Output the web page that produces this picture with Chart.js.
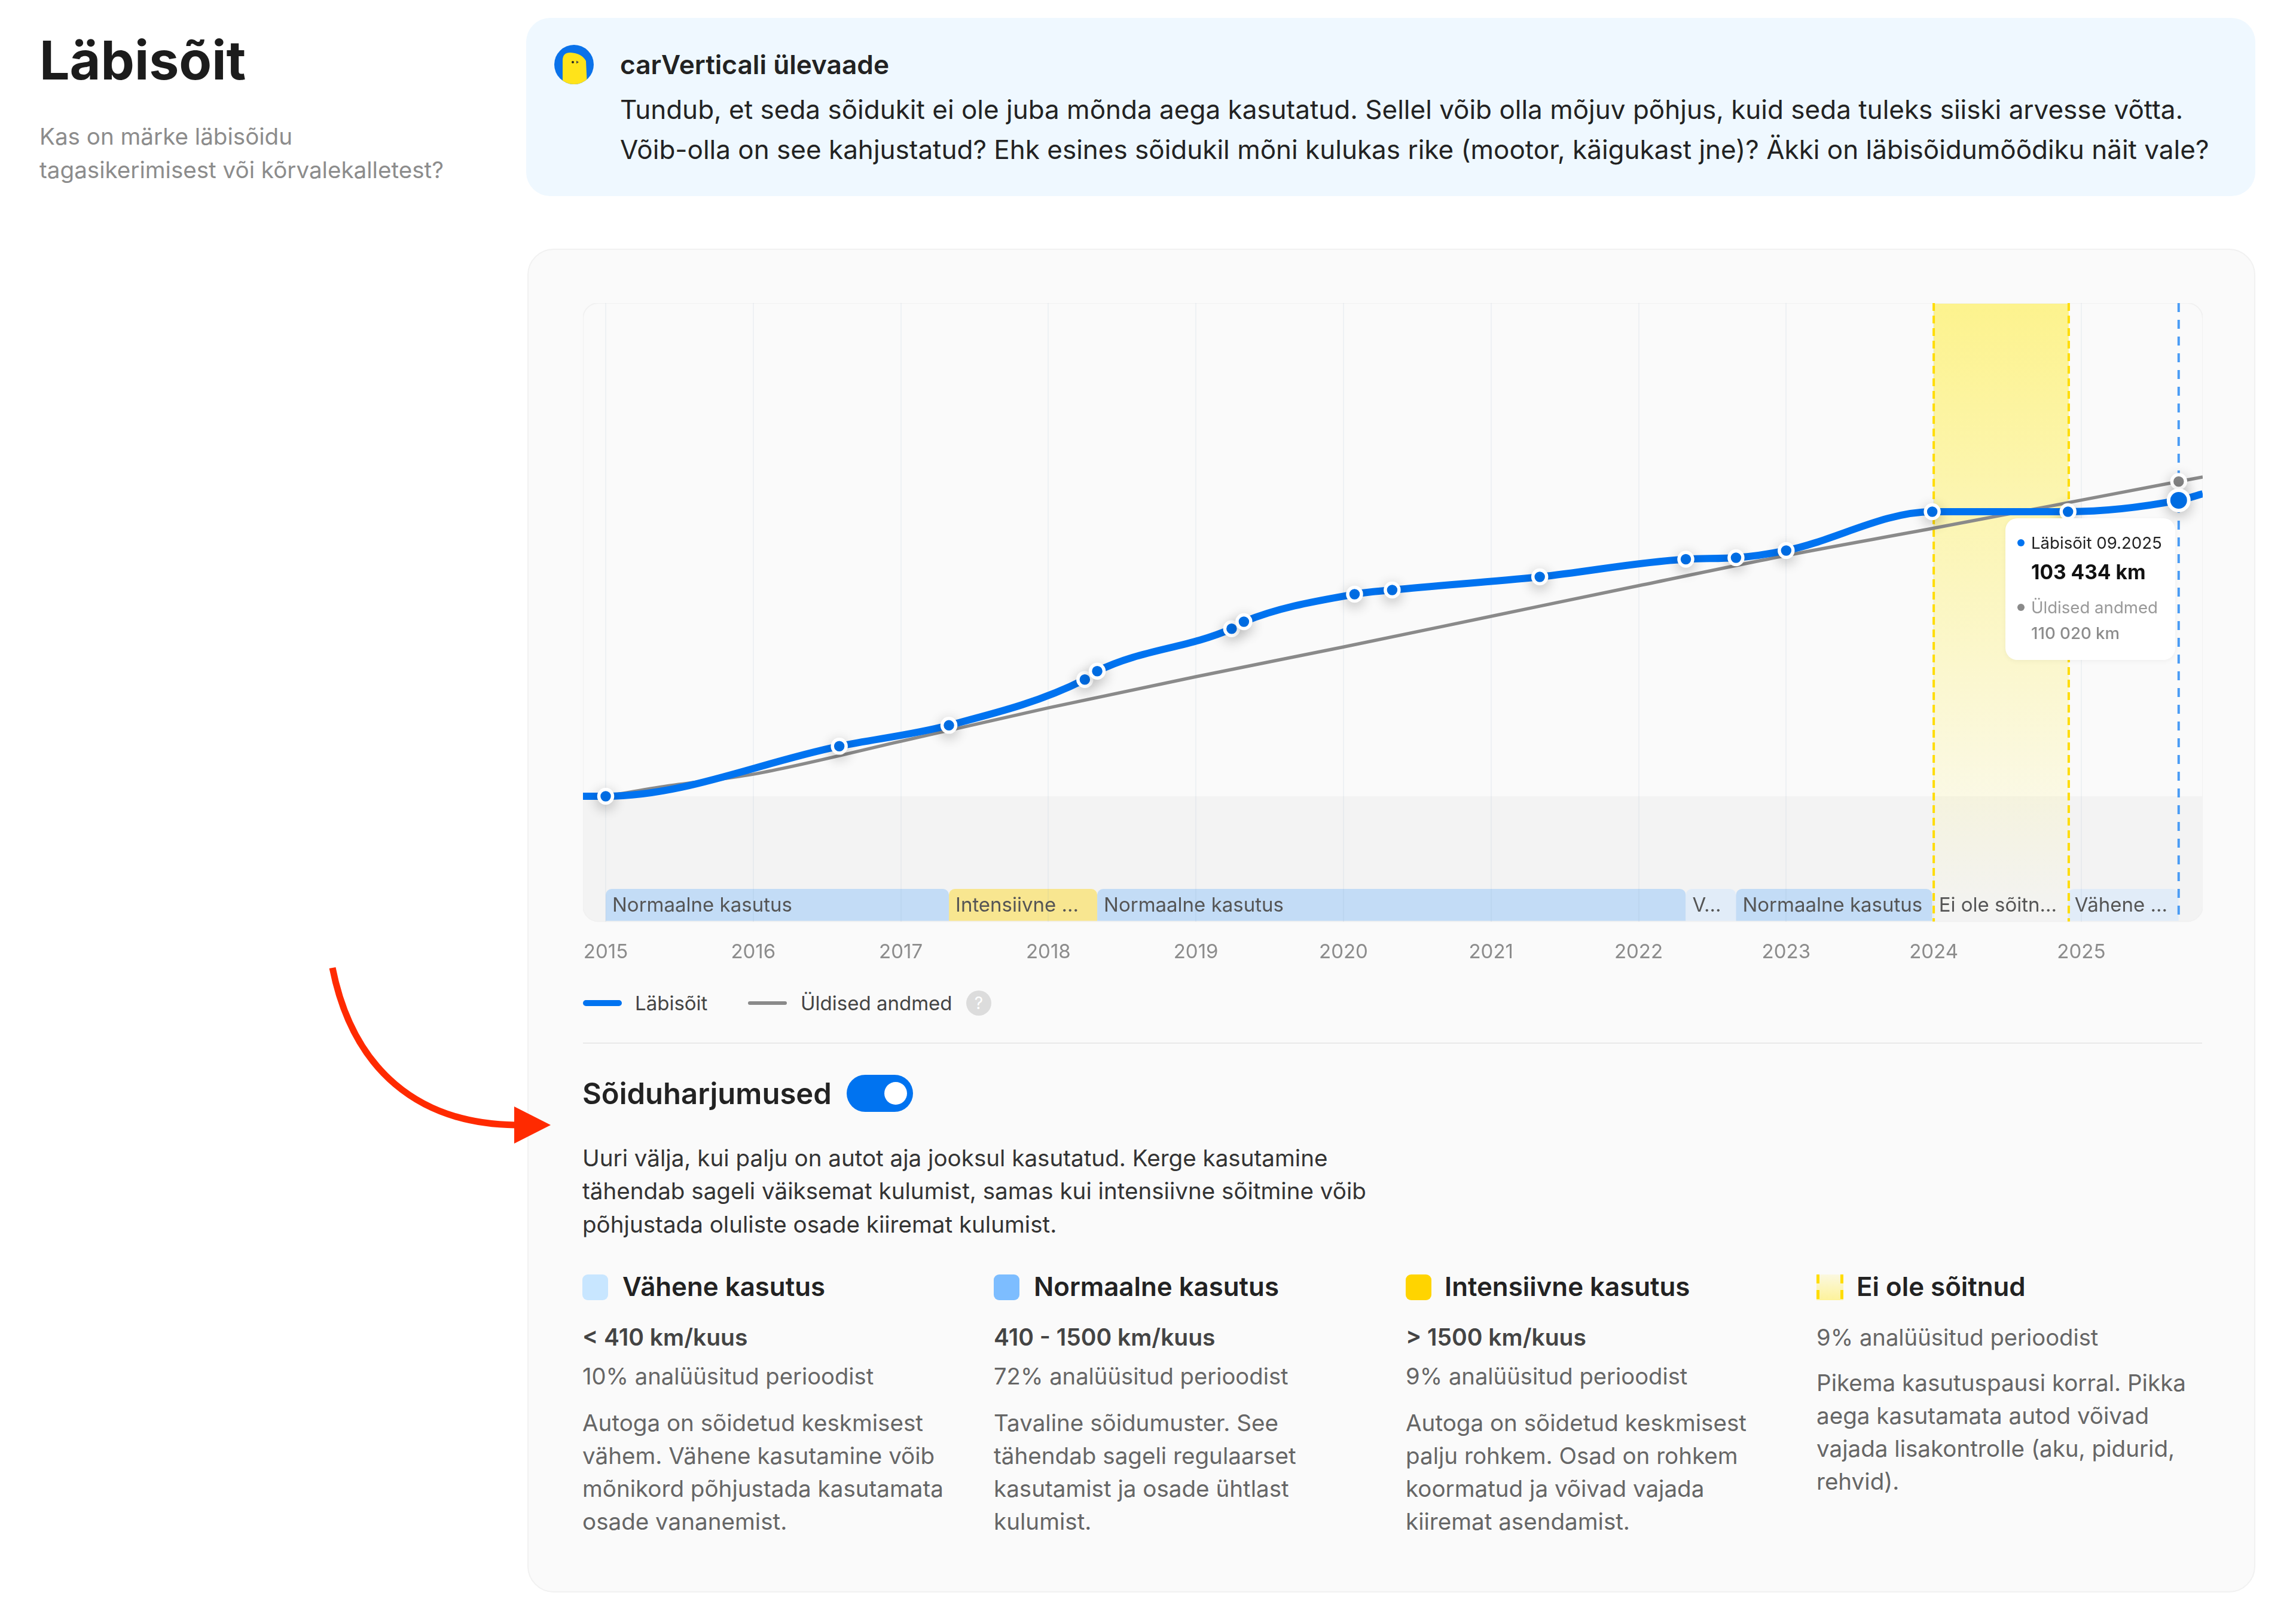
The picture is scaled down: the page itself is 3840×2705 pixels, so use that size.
<!DOCTYPE html>
<html lang="et">
<head>
<meta charset="utf-8">
<title>Läbisõit</title>
<script src="https://cdn.jsdelivr.net/npm/chart.js@4"></script>
<style>
  html, body { margin: 0; padding: 0; background: #fff; }
  body { position: relative; width: 3840px; height: 2705px; overflow: hidden; font-family: Inter, sans-serif; color: #222; }
  .t { position: absolute; white-space: nowrap; margin: 0; }
  .box { position: absolute; box-sizing: border-box; }
  .body-text { font-size: 38.6px; line-height: 55px; color: #666; }
  .col-head { font-size: 43.8px; line-height: 56px; font-weight: 600; color: #222; }
  .col-range { font-size: 39px; line-height: 50px; font-weight: 600; color: #444; }
  .col-share { font-size: 38.2px; line-height: 50px; color: #666; }
  .swatch { position: absolute; width: 43px; height: 43px; border-radius: 9px; }
  .tip { font-size: 27.6px; line-height: 40px; }
  canvas { position: absolute; left: 975px; top: 507px; }
</style>
</head>
<body>

<h1 class="t" style="left:66px;top:51px;font-size:89.5px;line-height:100px;font-weight:700;color:#1c1c1c">Läbisõit</h1>
<p class="t" style="left:66px;top:200px;font-size:38.6px;line-height:56px;color:#8c8c8c">Kas on märke läbisõidu<br>tagasikerimisest või kõrvalekalletest?</p>

<div class="box" style="left:880px;top:30px;width:2892px;height:298px;background:#eff8ff;border-radius:40px"></div>
<svg style="position:absolute;left:927px;top:75px" width="66" height="66" viewBox="0 0 66 66">
  <clipPath id="logoClip"><circle cx="33" cy="33" r="33"/></clipPath>
  <circle cx="33" cy="33" r="33" fill="#0a72ea"/>
  <path d="M14 70L14 26Q14 13 27 13Q46 14 53 27L55 70Z" fill="#ffe31a" clip-path="url(#logoClip)"/>
  <circle cx="31" cy="29" r="2" fill="#222"/><path d="M37 26.5L41 29L37 31.5Z" fill="#444"/>
</svg>
<div class="t" style="left:1037px;top:80px;font-size:44.2px;line-height:56px;font-weight:600;color:#222">carVerticali ülevaade</div>
<p class="t" style="left:1037px;top:150px;font-size:44px;line-height:67px;color:#222">Tundub, et seda sõidukit ei ole juba mõnda aega kasutatud. Sellel võib olla mõjuv põhjus, kuid seda tuleks siiski arvesse võtta.<br>Võib-olla on see kahjustatud? Ehk esines sõidukil mõni kulukas rike (mootor, käigukast jne)? Äkki on läbisõidumõõdiku näit vale?</p>

<div class="box" style="left:882px;top:416px;width:2890px;height:2248px;background:#fafafa;border:2px solid #f1f1f1;border-radius:44px"></div>

<canvas id="mileageChart" width="2709" height="1120" style="width:2709px;height:1120px"></canvas>

<div class="box" style="left:3354px;top:867px;width:284px;height:237px;background:#fff;border-radius:20px;box-shadow:0 2px 8px rgba(0,0,0,.05)"></div>
<div class="box" style="left:3374px;top:902px;width:12px;height:12px;border-radius:50%;background:#0073f0"></div>
<div class="t tip" style="left:3397px;top:888px;color:#222">Läbisõit 09.2025</div>
<div class="t" style="left:3397px;top:935px;font-size:33.5px;line-height:44px;font-weight:700;color:#111">103 434 km</div>
<div class="box" style="left:3374px;top:1010px;width:12px;height:12px;border-radius:50%;background:#8a8a8a"></div>
<div class="t tip" style="left:3397px;top:996px;color:#999">Üldised andmed</div>
<div class="t tip" style="left:3397px;top:1039px;color:#8c8c8c;font-weight:500">110 020 km</div>

<div class="box" style="left:975px;top:1673px;width:65px;height:10px;border-radius:5px;background:#0073f0"></div>
<div class="t" style="left:1062px;top:1656px;font-size:33px;line-height:44px;color:#444">Läbisõit</div>
<div class="box" style="left:1251px;top:1675px;width:65px;height:6px;border-radius:3px;background:#8a8a8a"></div>
<div class="t" style="left:1339px;top:1656px;font-size:33px;line-height:44px;color:#444">Üldised andmed</div>
<div class="box" style="left:1616px;top:1657px;width:42px;height:42px;border-radius:50%;background:#dcdcdc;color:#fff;font-size:28px;line-height:42px;text-align:center">?</div>

<div class="box" style="left:975px;top:1744px;width:2708px;height:2px;background:#e9e9e9"></div>

<div class="t" style="left:974px;top:1800px;font-size:49px;line-height:60px;font-weight:600;color:#222">Sõiduharjumused</div>
<div class="box" style="left:1416px;top:1798px;width:111px;height:62px;border-radius:31px;background:#0073f0"></div>
<div class="box" style="left:1479px;top:1810px;width:38px;height:38px;border-radius:50%;background:#fff"></div>
<p class="t" style="left:974px;top:1910px;font-size:38.6px;line-height:55.3px;color:#333">Uuri välja, kui palju on autot aja jooksul kasutatud. Kerge kasutamine<br>tähendab sageli väiksemat kulumist, samas kui intensiivne sõitmine võib<br>põhjustada oluliste osade kiiremat kulumist.</p>

<div class="swatch" style="left:974px;top:2132px;background:#c8e6ff"></div>
<div class="t col-head" style="left:1041px;top:2125px">Vähene kasutus</div>
<div class="t col-range" style="left:974px;top:2212px">&lt; 410 km/kuus</div>
<div class="t col-share" style="left:974px;top:2277px">10% analüüsitud perioodist</div>
<p class="t body-text" style="left:974px;top:2353px">Autoga on sõidetud keskmisest<br>vähem. Vähene kasutamine võib<br>mõnikord põhjustada kasutamata<br>osade vananemist.</p>

<div class="swatch" style="left:1662px;top:2132px;background:#7dbdff"></div>
<div class="t col-head" style="left:1729px;top:2125px">Normaalne kasutus</div>
<div class="t col-range" style="left:1662px;top:2212px">410 - 1500 km/kuus</div>
<div class="t col-share" style="left:1662px;top:2277px">72% analüüsitud perioodist</div>
<p class="t body-text" style="left:1662px;top:2353px">Tavaline sõidumuster. See<br>tähendab sageli regulaarset<br>kasutamist ja osade ühtlast<br>kulumist.</p>

<div class="swatch" style="left:2351px;top:2132px;background:#ffd400"></div>
<div class="t col-head" style="left:2416px;top:2125px">Intensiivne kasutus</div>
<div class="t col-range" style="left:2351px;top:2212px">&gt; 1500 km/kuus</div>
<div class="t col-share" style="left:2351px;top:2277px">9% analüüsitud perioodist</div>
<p class="t body-text" style="left:2351px;top:2353px">Autoga on sõidetud keskmisest<br>palju rohkem. Osad on rohkem<br>koormatud ja võivad vajada<br>kiiremat asendamist.</p>

<div class="swatch" style="left:3038px;top:2132px;width:45px;border-radius:0;background:linear-gradient(#fbf8e0,#fdf29a)"></div>
<div class="box" style="left:3038px;top:2132px;width:5px;height:43px;background:repeating-linear-gradient(#ffdc00 0 15px,transparent 15px 26px)"></div>
<div class="box" style="left:3078px;top:2132px;width:5px;height:43px;background:repeating-linear-gradient(#ffdc00 0 15px,transparent 15px 26px)"></div>
<div class="t col-head" style="left:3105px;top:2125px">Ei ole sõitnud</div>
<div class="t col-share" style="left:3038px;top:2212px">9% analüüsitud perioodist</div>
<p class="t body-text" style="left:3038px;top:2286px">Pikema kasutuspausi korral. Pikka<br>aega kasutamata autod võivad<br>vajada lisakontrolle (aku, pidurid,<br>rehvid).</p>

<svg style="position:absolute;left:0;top:0" width="3840" height="2705">
  <path d="M556 1619C590 1790 700 1880 862 1882" fill="none" stroke="#ff2a00" stroke-width="11"/>
  <path d="M860 1851L921 1882L860 1913Z" fill="#ff2a00"/>
</svg>

<script>
const tickYears = [2015, 2016, 2017, 2018, 2019, 2020, 2021, 2022, 2023, 2024, 2025];

const mileageYears = [2014.846, 2015.0, 2016.583, 2017.326, 2018.247, 2018.331, 2019.242, 2019.325, 2020.075, 2020.33, 2021.33, 2022.32, 2022.66, 2023.0, 2023.99, 2024.91, 2025.66, 2025.823];
const mileageKm = [0, 0, 17490, 24800, 40810, 43730, 58570, 61010, 70620, 72080, 76680, 82850, 83370, 85880, 99460, 99460, 103434, 105730];

const averageYears = [2015.0, 2015.42, 2016, 2017, 2018, 2019, 2020, 2021, 2022, 2023, 2024, 2025, 2025.66, 2025.823];
const averageKm = [0, 3600, 7700, 19200, 30900, 41800, 52200, 62900, 73600, 84150, 93700, 103500, 110020, 111580];

const usageStarts = [2015.0, 2017.326, 2018.331, 2022.32, 2022.66, 2023.99, 2024.91];
const usageEnds = [2017.326, 2018.331, 2022.32, 2022.66, 2023.99, 2024.91, 2025.66];
const usageKinds = ["normal", "intense", "normal", "light", "normal", "none", "light"];
const usageLabels = ["Normaalne kasutus", "Intensiivne ...", "Normaalne kasutus", "V...", "Normaalne kasutus", "Ei ole sõitn...", "Vähene ..."];

const parkedStart = 2024.0;
const parkedEnd = 2024.915;
const cursorYear = 2025.66;

const X_MIN = 2014.846;
const X_MAX = 2025.823;
const Y_MIN = -43770;
const Y_MAX = 172380;
const USAGE_TOP_KM = -32390;

const BLUE = "#0073f0";
const GREY = "#8a8a8a";
const usageFill = { normal: "#c3dcf6", intense: "#f8e690", light: "#e1ecf8" };

function framePath(ctx, area) {
    ctx.beginPath();
    ctx.roundRect(area.left, area.top, area.width, area.height, 26);
}

// plot background, grey band under zero, yellow gap and usage strip; these sit under the grid
const backdropPlugin = {
    id: "backdrop",
    beforeDraw(chart) {
        const { ctx, chartArea: area, scales: { x, y } } = chart;
        ctx.save();
        framePath(ctx, area);
        ctx.fillStyle = "#fafafa";
        ctx.fill();
        ctx.clip();

        ctx.fillStyle = "#f3f3f3";
        ctx.fillRect(area.left, y.getPixelForValue(0), area.width, area.bottom - y.getPixelForValue(0));

        const px0 = x.getPixelForValue(parkedStart);
        const px1 = x.getPixelForValue(parkedEnd);
        const grad = ctx.createLinearGradient(0, area.top, 0, area.bottom);
        grad.addColorStop(0, "rgba(253,242,130,0.9)");
        grad.addColorStop(1, "rgba(253,242,130,0)");
        ctx.fillStyle = grad;
        ctx.fillRect(px0, area.top, px1 - px0, area.height);

        usageKinds.forEach((kind, i) => {
            if (kind === "none") return;
            const left = x.getPixelForValue(usageStarts[i]);
            const right = x.getPixelForValue(usageEnds[i]);
            const top = y.getPixelForValue(USAGE_TOP_KM);
            ctx.fillStyle = usageFill[kind];
            ctx.beginPath();
            ctx.roundRect(left, top, right - left, area.bottom - top, [10, 10, 0, 0]);
            ctx.fill();
        });
        ctx.restore();

        ctx.save();
        framePath(ctx, area);
        ctx.strokeStyle = "#f1f1f1";
        ctx.lineWidth = 2;
        ctx.stroke();
        ctx.restore();
    },
    beforeDatasetsDraw(chart) {
        const { ctx, chartArea: area, scales: { x, y } } = chart;
        ctx.save();
        ctx.lineWidth = 4;
        ctx.strokeStyle = "#ffdc00";
        ctx.setLineDash([13, 8]);
        [parkedStart, parkedEnd].forEach(v => {
            ctx.beginPath();
            ctx.moveTo(x.getPixelForValue(v), area.top);
            ctx.lineTo(x.getPixelForValue(v), area.bottom);
            ctx.stroke();
        });
        ctx.strokeStyle = "#4a9cf5";
        ctx.setLineDash([15, 13]);
        ctx.beginPath();
        ctx.moveTo(x.getPixelForValue(cursorYear), area.top);
        ctx.lineTo(x.getPixelForValue(cursorYear), area.bottom);
        ctx.stroke();
        ctx.setLineDash([]);

        ctx.font = "33px Inter";
        ctx.fillStyle = "#555";
        ctx.textBaseline = "middle";
        usageLabels.forEach((label, i) => {
            const top = y.getPixelForValue(USAGE_TOP_KM);
            ctx.fillText(label, x.getPixelForValue(usageStarts[i]) + 11, (top + area.bottom) / 2 + 1);
        });
        ctx.restore();
    },
    beforeDatasetDraw(chart, args) {
        if (chart.data.datasets[args.index].softShadow) {
            chart.ctx.save();
            chart.ctx.shadowColor = "rgba(0,0,0,0.22)";
            chart.ctx.shadowBlur = 22;
            chart.ctx.shadowOffsetY = 6;
        }
    },
    afterDatasetDraw(chart, args) {
        if (chart.data.datasets[args.index].softShadow) chart.ctx.restore();
    }
};

function toPoints(xs, ys) {
    return xs.map((v, i) => ({ x: v, y: ys[i] }));
}

const mileageMarks = toPoints(mileageYears, mileageKm).slice(1, -1);
const averageMark = toPoints(averageYears, averageKm).slice(-2, -1);

new Chart(document.getElementById("mileageChart"), {
    type: "line",
    plugins: [backdropPlugin],
    data: {
        datasets: [
            {
                label: "Läbisõit punktid",
                data: mileageMarks,
                showLine: false,
                softShadow: true,
                clip: false,
                pointBackgroundColor: BLUE,
                pointBorderColor: "#fff",
                pointBorderWidth: ctx => ctx.dataIndex === mileageMarks.length - 1 ? 6 : 5.5,
                pointRadius: ctx => ctx.dataIndex === mileageMarks.length - 1 ? 17 : 11.5
            },
            {
                label: "Läbisõit",
                data: toPoints(mileageYears, mileageKm),
                borderColor: BLUE,
                borderWidth: 12,
                pointRadius: 0,
                cubicInterpolationMode: "monotone"
            },
            {
                label: "Üldised punktid",
                data: averageMark,
                showLine: false,
                softShadow: true,
                clip: false,
                pointBackgroundColor: GREY,
                pointBorderColor: "#fff",
                pointBorderWidth: 5.5,
                pointRadius: 11.5
            },
            {
                label: "Üldised andmed",
                data: toPoints(averageYears, averageKm),
                borderColor: GREY,
                borderWidth: 5.5,
                pointRadius: 0,
                cubicInterpolationMode: "monotone"
            }
        ]
    },
    options: {
        responsive: false,
        devicePixelRatio: 1,
        animation: false,
        layout: { padding: 0, autoPadding: false },
        plugins: { legend: { display: false }, tooltip: { enabled: false } },
        scales: {
            x: {
                type: "linear",
                min: X_MIN,
                max: X_MAX,
                afterBuildTicks: scale => { scale.ticks = tickYears.map(v => ({ value: v })); },
                afterFit: scale => {
                    scale.height = 85.5;
                    scale.paddingLeft = 0;
                    scale.paddingRight = 0;
                },
                grid: { color: "rgba(120,150,190,0.09)", lineWidth: 2, drawTicks: false },
                border: { display: false },
                ticks: {
                    padding: 32,
                    maxRotation: 0,
                    autoSkip: false,
                    color: "#8c8c8c",
                    font: { family: "Inter", size: 33 },
                    callback: value => String(value)
                }
            },
            y: { display: false, min: Y_MIN, max: Y_MAX }
        }
    }
});
</script>
</body>
</html>
